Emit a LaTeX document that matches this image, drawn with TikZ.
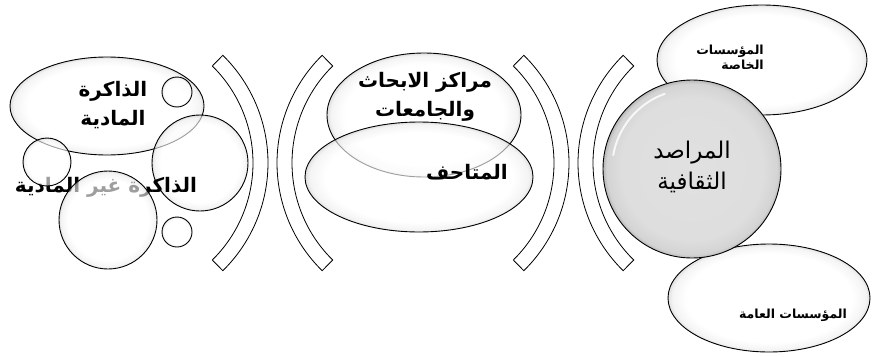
\documentclass[tikz,border=0pt]{standalone}
\usepackage{fontspec}
\newfontfamily\arabicfont[Script=Arabic]{DejaVu Sans}
\TeXXeTstate=1
\usetikzlibrary{shapes.geometric}
\pgfdeclareradialshading{glow}{\pgfpoint{0bp}{0bp}}{color(0bp)=(white); color(20.5bp)=(white); color(24bp)=(black!7); color(25bp)=(black!20); color(50bp)=(black!20)}
\pgfdeclareradialshading{greyglow}{\pgfpoint{0bp}{0bp}}{color(0bp)=(black!12); color(20bp)=(black!13); color(24bp)=(black!17); color(25bp)=(black!28); color(50bp)=(black!28)}
\tikzset{
  glossy/.style={draw=black, line width=0.9pt, fill opacity=0.62, shading=glow, inner sep=0pt},
  oval/.style={glossy, ellipse},
  disc/.style={glossy, circle},
  brk/.style={draw=black, line width=0.8pt, fill=white},
  lbl/.style={font=\arabicfont\bfseries\fontsize{20}{29}\selectfont, align=center, inner sep=0pt},
  slbl/.style={font=\arabicfont\bfseries\fontsize{12.5}{15}\selectfont, align=right, inner sep=0pt},
  clbl/.style={font=\arabicfont\fontsize{23}{31}\selectfont, align=center, inner sep=0pt}
}
\begin{document}
\begin{tikzpicture}[x=1pt,y=-1pt]
\useasboundingbox (0,0) rectangle (875,356);
% ---------- brackets ----------
\draw[brk] (117,163) ++(-45.5:136pt) arc[start angle=-45.5,end angle=45.5,radius=136pt] -- ++(45.5:15pt) arc[start angle=45.5,end angle=-45.5,radius=151pt] -- cycle;
\draw[brk] (428,163) ++(134.5:136pt) arc[start angle=134.5,end angle=225.5,radius=136pt] -- ++(225.5:15pt) arc[start angle=225.5,end angle=134.5,radius=151pt] -- cycle;
\draw[brk] (418,163) ++(-45.5:136pt) arc[start angle=-45.5,end angle=45.5,radius=136pt] -- ++(45.5:15pt) arc[start angle=45.5,end angle=-45.5,radius=151pt] -- cycle;
\draw[brk] (729,163) ++(134.5:136pt) arc[start angle=134.5,end angle=225.5,radius=136pt] -- ++(225.5:15pt) arc[start angle=225.5,end angle=134.5,radius=151pt] -- cycle;
% ---------- left group ----------
\node[oval, minimum width=194pt, minimum height=98pt] (mat) at (107,106) {};
\node[lbl] (matT) at (113,105) {\beginR الذاكرة\endR\\\beginR المادية\endR};
\node[disc, minimum size=30pt] (c1) at (177,92) {};
\node[disc, minimum size=96pt] (c2) at (200,163) {};
\node[lbl] (imT) at (106,187) {\beginR الذاكرة غير المادية\endR};
\node[disc, minimum size=48pt] (c3) at (47,162) {};
\node[disc, minimum size=98pt] (c4) at (108,220) {};
\node[disc, minimum size=30pt] (c5) at (177,232) {};
% ---------- middle group ----------
\node[oval, minimum width=194pt, minimum height=124pt] (res) at (424,115) {};
\node[oval, minimum width=228pt, minimum height=110pt] (mus) at (419,177) {};
\node[lbl] (resT) at (425,97) {\beginR مراكز الابحاث\endR\\\beginR والجامعات\endR};
\node[lbl] (musT) at (467,172) {\beginR المتاحف\endR};
% ---------- right group ----------
\node[oval, minimum width=210pt, minimum height=110pt] (pri) at (762,60) {};
\node[oval, minimum width=202pt, minimum height=108pt] (pub) at (769,298) {};
\node[circle, draw=black, line width=0.9pt, shading=greyglow, minimum size=178pt] (obs) at (692,169) {};
\draw[white, line width=2pt, opacity=0.8, line cap=round] (692,169) ++(110:80pt) arc[start angle=110,end angle=170,radius=80pt];
\node[slbl] (priT) at (730,57) {\beginR المؤسسات\endR\\\beginR الخاصة\endR};
\node[slbl] (pubT) at (793,315) {\beginR المؤسسات العامة\endR};
\node[clbl] (obsT) at (692,167) {\beginR المراصد\endR\\\beginR الثقافية\endR};
\end{tikzpicture}
\end{document}
